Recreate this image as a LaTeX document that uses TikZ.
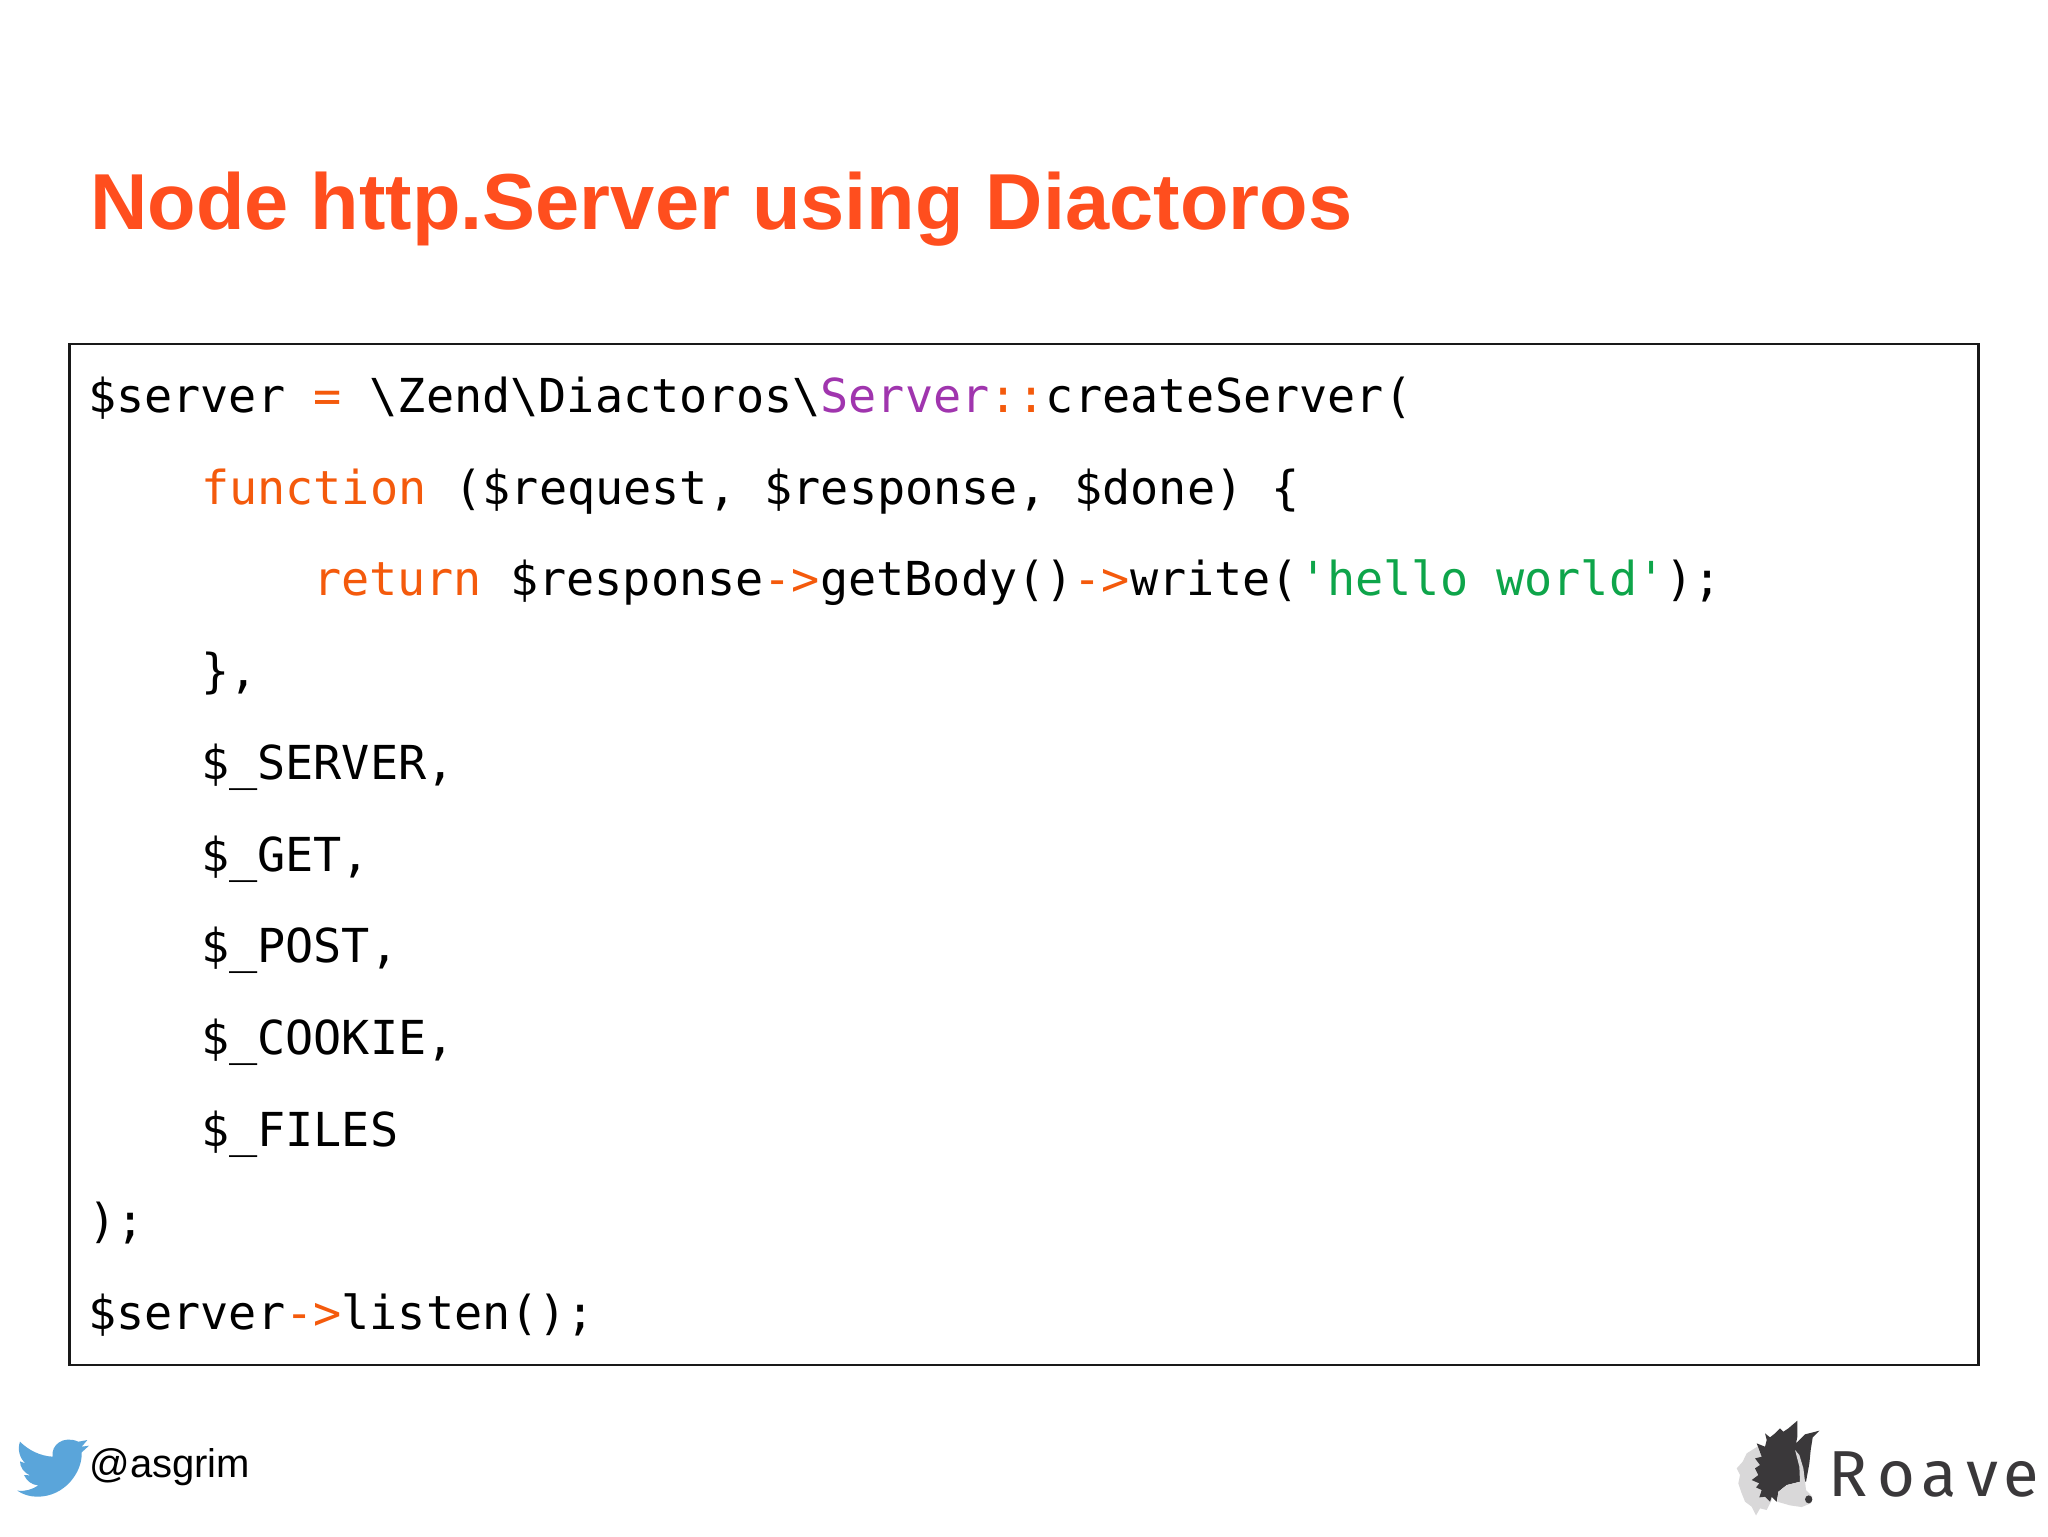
\documentclass[tikz,border=0pt]{standalone}
\usepackage{fontspec}
\setmainfont{Liberation Sans}
\newfontfamily\codefont{DejaVu Sans Mono}
\newfontfamily\logofont{Fira Sans}
\definecolor{titlecol}{HTML}{FF4E1E}
\definecolor{kw}{HTML}{F45A0C}
\definecolor{cls}{HTML}{A035AE}
\definecolor{strc}{HTML}{0EA54A}
\definecolor{birdc}{HTML}{5AA5DA}
\definecolor{dogd}{HTML}{3A383A}
\definecolor{dogl}{HTML}{D9D8D9}
\newcommand{\K}[1]{\textcolor{kw}{#1}}
\newcommand{\bsl}{\textbackslash}
\tikzset{
  codeline/.style={anchor=base west,inner sep=0pt,outer sep=0pt,font=\codefont\fontsize{23.4}{28}\selectfont,text=black},
  titletext/.style={anchor=base west,inner sep=0pt,font=\fontsize{39.7}{48}\selectfont\bfseries,text=titlecol},
  handle/.style={anchor=base west,inner sep=0pt,font=\fontsize{20}{24}\selectfont,text=black},
  logotext/.style={anchor=base west,inner sep=0pt,font=\logofont\fontsize{32.5}{38}\selectfont,text=dogd}
}
\begin{document}
\begin{tikzpicture}[x=0.5pt,y=-0.5pt]
\useasboundingbox (0,0) rectangle (2048,1536);
\fill[white] (0,0) rectangle (2048,1536);
\node[titletext] (title) at (90,229) {Node http.Server using Diactoros};
\draw[line width=1.2pt,black!90] (69.5,344) rectangle (1978.5,1365);
\node[codeline] (l1) at (88,412.5) {\$server \K{=} \bsl Zend\bsl Diactoros\bsl\textcolor{cls}{Server}\K{::}createServer(};
\node[codeline] (l2) at (201,504.2) {\K{function} (\$request, \$response, \$done) \{};
\node[codeline] (l3) at (313,595.9) {\K{return} \$response\K{->}getBody()\K{->}write(\textcolor{strc}{'hello world'});};
\node[codeline] (l4) at (201,687.6) {\},};
\node[codeline] (l5) at (201,779.3) {\$\_SERVER,};
\node[codeline] (l6) at (201,871) {\$\_GET,};
\node[codeline] (l7) at (201,962.7) {\$\_POST,};
\node[codeline] (l8) at (201,1054.4) {\$\_COOKIE,};
\node[codeline] (l9) at (201,1146.1) {\$\_FILES};
\node[codeline] (l10) at (88,1237.8) {);};
\node[codeline] (l11) at (88,1329.5) {\$server\K{->}listen();};
% Twitter bird
\begin{scope}[shift={(0,1400)},x=0.1667pt,y=-0.1667pt]
\fill[birdc] (60,125) .. controls (85,150) and (120,168) .. (158,170)
  .. controls (152,135) and (190,105) .. (235,125)
  -- (262,120) -- (245,140) -- (267,137) -- (245,157)
  .. controls (248,215) and (195,290) .. (112,290)
  .. controls (90,290) and (70,284) .. (52,272)
  .. controls (75,275) and (98,268) .. (115,256)
  .. controls (95,255) and (80,242) .. (72,225)
  -- (90,226) .. controls (72,218) and (60,202) .. (60,184)
  -- (76,190) .. controls (58,172) and (52,148) .. (60,125) -- cycle;
\end{scope}
\node[handle] (tw) at (89,1477) {@asgrim};
% Roave dog
\begin{scope}[shift={(1720,1400)},x=0.1667pt,y=-0.1667pt]
\fill[dogl] (112,140) -- (80,160) -- (68,185) -- (50,205) -- (60,225) -- (55,250) -- (65,280) -- (75,305) -- (95,320) -- (108,346) -- (120,325) -- (140,330) -- (155,300) -- (140,200) -- cycle;
\fill[dogd] (135,100) -- (150,112) -- (165,100) -- (180,85) -- (190,95) -- (205,85) -- (232,62) -- (232,110) -- (228,130) -- (255,103) -- (298,92) -- (278,112) -- (272,150) -- (268,190) -- (258,245) -- (240,245) -- (200,255) -- (175,275) -- (170,305) -- (155,290) -- (150,305) -- (135,290) -- (118,292) -- (125,270) -- (108,262) -- (118,250) -- (95,240) -- (115,225) -- (105,205) -- (120,195) -- (105,175) -- (125,170) -- (110,130) -- (135,140) -- (140,120) -- cycle;
\fill[dogl] (175,275) -- (200,255) -- (240,245) -- (255,245) -- (258,270) -- (277,290) -- (272,310) -- (245,321) -- (210,316) -- (172,305) -- cycle;
\fill[dogl] (225,150) -- (238,165) -- (250,205) -- (255,245) -- (240,248) -- (238,200) -- cycle;
\fill[dogd] (266,298) ellipse [x radius=11,y radius=12];
\end{scope}
\node[logotext] (r1) at (1828,1496) {R};
\node[logotext] (r2) at (1877,1496) {o};
\node[logotext] (r3) at (1921,1496) {a};
\node[logotext] (r4) at (1966,1496) {v};
\node[logotext] (r5) at (2003,1496) {e};
\end{tikzpicture}
\end{document}
